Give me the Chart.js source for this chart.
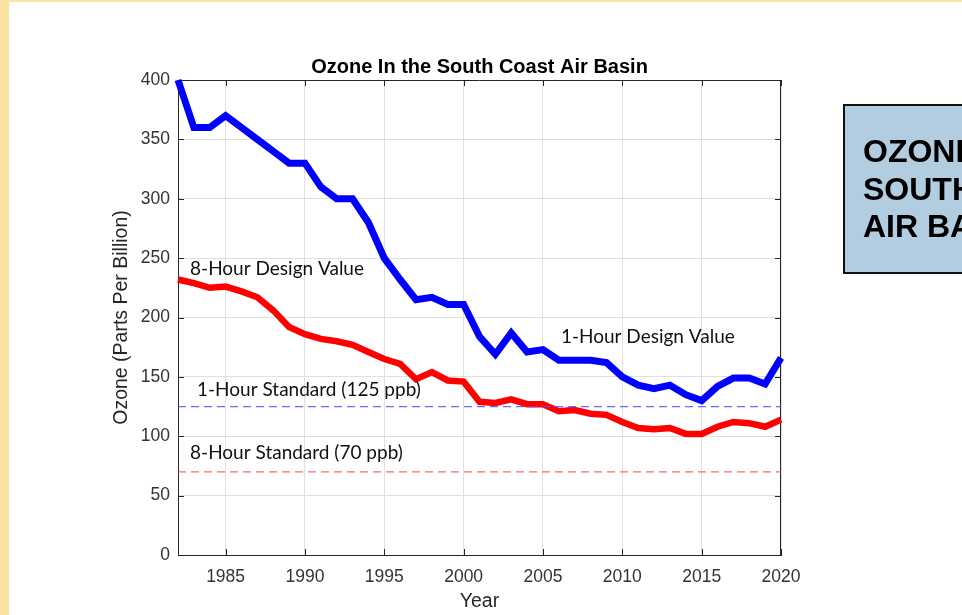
<!DOCTYPE html>
<html>
<head>
<meta charset="utf-8">
<title>Ozone In the South Coast Air Basin</title>
<script src="https://cdn.jsdelivr.net/npm/chart.js@4.4.1/dist/chart.umd.min.js"></script>
<style>
  html, body { margin: 0; padding: 0; width: 962px; height: 615px; overflow: hidden; background: #ffffff; }
  #edgeLeft { position: absolute; left: 0; top: 0; width: 9px; height: 615px; background: #fbe2a0; }
  #edgeTop { position: absolute; left: 0; top: 0; width: 962px; height: 2px; background: #fbe2a0; }
  #wrap { position: absolute; left: 0; top: 0; width: 962px; height: 615px; }
  #sideNote {
    position: absolute; left: 843px; top: 104px; width: 240px; height: 170px;
    box-sizing: border-box; background: #b3cde0; border: 2px solid #111;
    padding: 27px 0 0 18px; white-space: nowrap;
    font: bold 32px/37.5px "Liberation Sans", Arial, Helvetica, sans-serif; color: #000;
  }
</style>
</head>
<body>
<div id="edgeLeft"></div>
<div id="edgeTop"></div>
<div id="wrap"><canvas id="ozoneChart" width="962" height="615"></canvas></div>
<div id="sideNote">OZONE IN THE<br>SOUTH COAST<br>AIR BASIN</div>
<script>
const years = [1982, 1983, 1984, 1985, 1986, 1987, 1988, 1989, 1990, 1991,
  1992, 1993, 1994, 1995, 1996, 1997, 1998, 1999, 2000, 2001,
  2002, 2003, 2004, 2005, 2006, 2007, 2008, 2009, 2010, 2011,
  2012, 2013, 2014, 2015, 2016, 2017, 2018, 2019, 2020];
const oneHourDesign = [400, 360, 360, 370, 360, 350, 340, 330, 330, 310,
  300, 300, 280, 250, 232, 215, 217, 211, 211, 184,
  169, 187, 171, 173, 164, 164, 164, 162, 150, 143,
  140, 143, 135, 130, 142, 149, 149, 144, 166];
const eightHourDesign = [232, 229, 225, 226, 222, 217, 206, 192, 186, 182,
  180, 177, 171, 165, 161, 148, 154, 147, 146, 129,
  128, 131, 127, 127, 121, 122, 119, 118, 112, 107,
  106, 107, 102, 102, 108, 112, 111, 108, 114];
const standardYears = [1982, 2020];
const oneHourStandard = [125, 125];
const eightHourStandard = [70, 70];
const yearTicks = [1985, 1990, 1995, 2000, 2005, 2010, 2015, 2020];
const ozoneTicks = [0, 50, 100, 150, 200, 250, 300, 350, 400];

const sans = "'Liberation Sans', Arial, Helvetica, sans-serif";
const toPoints = (xs, ys) => xs.map((v, i) => ({ x: v, y: ys[i] }));

const axesFrame = {
  id: "axesFrame",
  beforeDatasetsDraw(chart) {
    const { ctx, chartArea: a, scales: { x, y } } = chart;
    ctx.save();
    ctx.strokeStyle = "#262626";
    ctx.lineWidth = 1;
    ctx.beginPath();
    ctx.moveTo(a.left, a.top + 0.5);
    ctx.lineTo(a.right, a.top + 0.5);
    ctx.moveTo(a.right - 0.5, a.top);
    ctx.lineTo(a.right - 0.5, a.bottom);
    yearTicks.forEach((v) => {
      const px = Math.round(x.getPixelForValue(v)) + 0.5;
      ctx.moveTo(px, a.bottom);
      ctx.lineTo(px, a.bottom - 6);
      ctx.moveTo(px, a.top);
      ctx.lineTo(px, a.top + 6);
    });
    ozoneTicks.forEach((v) => {
      const py = Math.round(y.getPixelForValue(v)) + 0.5;
      ctx.moveTo(a.left, py);
      ctx.lineTo(a.left + 6, py);
      ctx.moveTo(a.right, py);
      ctx.lineTo(a.right - 6, py);
    });
    ctx.stroke();
    ctx.restore();
  },
  afterDatasetsDraw(chart) {
    const { ctx, scales: { x, y } } = chart;
    const labels = [
      ["8-Hour Design Value", 1982.76, 241],
      ["1-Hour Design Value", 2006.13, 184],
      ["1-Hour Standard (125 ppb)", 1983.2, 139],
      ["8-Hour Standard (70 ppb)", 1982.76, 86],
    ];
    ctx.save();
    ctx.font = "19px Lato, 'Open Sans', sans-serif";
    ctx.fillStyle = "#111111";
    ctx.textBaseline = "middle";
    ctx.textAlign = "left";
    labels.forEach(([text, yr, ppb]) => {
      ctx.fillText(text, x.getPixelForValue(yr), y.getPixelForValue(ppb));
    });
    ctx.restore();
  },
};

const ctx = document.getElementById("ozoneChart").getContext("2d");
new Chart(ctx, {
  type: "line",
  data: {
    datasets: [
      {
        label: "1-Hour Standard",
        data: toPoints(standardYears, oneHourStandard),
        borderColor: "rgba(80, 80, 255, 0.85)",
        borderWidth: 1.3,
        borderDash: [8, 5],
        pointRadius: 0,
      },
      {
        label: "8-Hour Standard",
        data: toPoints(standardYears, eightHourStandard),
        borderColor: "rgba(255, 80, 80, 0.85)",
        borderWidth: 1.3,
        borderDash: [8, 5],
        pointRadius: 0,
      },
      {
        label: "8-Hour Design Value",
        data: toPoints(years, eightHourDesign),
        borderColor: "#ff0000",
        borderWidth: 6.5,
        borderJoinStyle: "miter",
        pointRadius: 0,
        clip: false,
      },
      {
        label: "1-Hour Design Value",
        data: toPoints(years, oneHourDesign),
        borderColor: "#0000ff",
        borderWidth: 7,
        borderJoinStyle: "miter",
        pointRadius: 0,
        clip: false,
      },
    ],
  },
  options: {
    responsive: false,
    devicePixelRatio: 1,
    animation: false,
    layout: { padding: { top: 0, left: 0, right: 181, bottom: 0 } },
    plugins: {
      legend: { display: false },
      tooltip: { enabled: false },
      title: {
        display: true,
        fullSize: false,
        text: "Ozone In the South Coast Air Basin",
        color: "#000000",
        font: { family: sans, size: 20, weight: "bold" },
        padding: { top: 55.5, bottom: 0.5 },
      },
    },
    scales: {
      x: {
        type: "linear",
        min: 1982,
        max: 2020,
        afterBuildTicks: (scale) => {
          scale.ticks = yearTicks.map((v) => ({ value: v }));
        },
        afterFit: (scale) => { scale.height = 60; },
        grid: { color: "#e0e0e0", drawTicks: false },
        border: { color: "#262626", width: 1 },
        ticks: {
          color: "#333333",
          padding: 12,
          font: { family: sans, size: 17.5 },
          callback: (v) => String(v),
        },
        title: {
          display: true,
          text: "Year",
          color: "#262626",
          font: { family: sans, size: 19.5 },
          padding: { top: 0, bottom: 1.3 },
        },
      },
      y: {
        min: 0,
        max: 400,
        afterBuildTicks: (scale) => {
          scale.ticks = ozoneTicks.map((v) => ({ value: v }));
        },
        afterFit: (scale) => { scale.width = 178; },
        grid: { color: "#e0e0e0", drawTicks: false },
        border: { color: "#262626", width: 1 },
        ticks: {
          color: "#333333",
          padding: 8,
          font: { family: sans, size: 17.5 },
        },
        title: {
          display: true,
          text: "Ozone (Parts Per Billion)",
          color: "#262626",
          font: { family: sans, size: 19.5 },
          padding: { top: 110, bottom: 0 },
        },
      },
    },
  },
  plugins: [axesFrame],
});
</script>
</body>
</html>
